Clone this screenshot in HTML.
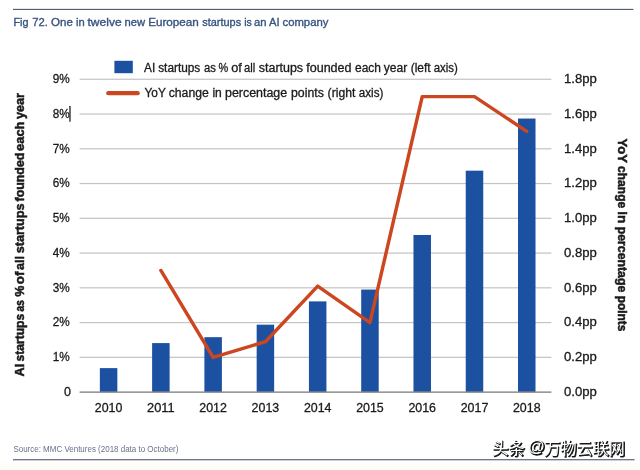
<!DOCTYPE html>
<html><head><meta charset="utf-8"><title>Fig 72</title>
<style>
html,body{margin:0;padding:0;background:#fff;}
body{width:640px;height:470px;position:relative;overflow:hidden;font-family:"Liberation Sans",sans-serif;}
</style></head><body>
<svg width="640" height="470" viewBox="0 0 640 470" style="position:absolute;left:0;top:0;will-change:transform">
<rect x="0" y="463" width="640" height="7" fill="#fefdf7"/>
<rect x="13" y="8.85" width="620.4" height="1.1" fill="#4b566b"/>
<rect x="13" y="459.15" width="621.6" height="1.15" fill="#566176"/>
<rect x="79.6" y="356.74" width="471.79999999999995" height="1.2" fill="#c3c3c3"/>
<rect x="79.6" y="321.98" width="471.79999999999995" height="1.2" fill="#c3c3c3"/>
<rect x="79.6" y="287.22" width="471.79999999999995" height="1.2" fill="#c3c3c3"/>
<rect x="79.6" y="252.46" width="471.79999999999995" height="1.2" fill="#c3c3c3"/>
<rect x="79.6" y="217.70" width="471.79999999999995" height="1.2" fill="#c3c3c3"/>
<rect x="79.6" y="182.94" width="471.79999999999995" height="1.2" fill="#c3c3c3"/>
<rect x="79.6" y="148.18" width="471.79999999999995" height="1.2" fill="#c3c3c3"/>
<rect x="79.6" y="113.42" width="471.79999999999995" height="1.2" fill="#c3c3c3"/>
<rect x="79.6" y="78.66" width="471.79999999999995" height="1.2" fill="#c3c3c3"/>
<rect x="99.85" y="368.12" width="17.5" height="23.98" fill="#1c50a1"/>
<rect x="152.12" y="343.09" width="17.5" height="49.01" fill="#1c50a1"/>
<rect x="204.39" y="337.18" width="17.5" height="54.92" fill="#1c50a1"/>
<rect x="256.66" y="324.67" width="17.5" height="67.43" fill="#1c50a1"/>
<rect x="308.93" y="301.38" width="17.5" height="90.72" fill="#1c50a1"/>
<rect x="361.20" y="289.56" width="17.5" height="102.54" fill="#1c50a1"/>
<rect x="413.47" y="234.98" width="17.5" height="157.12" fill="#1c50a1"/>
<rect x="465.74" y="170.68" width="17.5" height="221.42" fill="#1c50a1"/>
<rect x="518.01" y="118.54" width="17.5" height="273.56" fill="#1c50a1"/>
<rect x="79.6" y="391.40" width="471.79999999999995" height="1.5" fill="#8e8e8e"/>
<polyline points="160.87,270.44 213.14,357.34 265.41,341.70 317.68,286.08 369.95,322.58 422.22,96.64 474.49,96.64 526.76,131.40" fill="none" stroke="#cc4720" stroke-width="3.45" stroke-linejoin="round" stroke-linecap="round"/>
<rect x="114.4" y="60.8" width="18.4" height="12.4" fill="#1c50a1"/>
<line x1="108.3" y1="93.2" x2="137.7" y2="93.2" stroke="#cc4720" stroke-width="4.2" stroke-linecap="round"/>
<g style="font-family:'Liberation Sans',sans-serif;" fill="#1a1a1a" stroke="#1a1a1a" stroke-width="0.3">
<text x="144.1" y="72.2" font-size="12.0" textLength="11.2" lengthAdjust="spacingAndGlyphs">AI</text><text x="158.2" y="72.2" font-size="12.0" textLength="42.1" lengthAdjust="spacingAndGlyphs">startups</text><text x="203.9" y="72.2" font-size="12.0" textLength="11.9" lengthAdjust="spacingAndGlyphs">as</text><text x="218.4" y="72.2" font-size="12.0" textLength="9.7" lengthAdjust="spacingAndGlyphs">%</text><text x="231.3" y="72.2" font-size="12.0" textLength="10.6" lengthAdjust="spacingAndGlyphs">of</text><text x="244.1" y="72.2" font-size="12.0" textLength="11.2" lengthAdjust="spacingAndGlyphs">all</text><text x="258.8" y="72.2" font-size="12.0" textLength="44.3" lengthAdjust="spacingAndGlyphs">startups</text><text x="306.2" y="72.2" font-size="12.0" textLength="45.4" lengthAdjust="spacingAndGlyphs">founded</text><text x="355.0" y="72.2" font-size="12.0" textLength="25.9" lengthAdjust="spacingAndGlyphs">each</text><text x="383.7" y="72.2" font-size="12.0" textLength="23.5" lengthAdjust="spacingAndGlyphs">year</text><text x="410.7" y="72.2" font-size="12.0" textLength="20.0" lengthAdjust="spacingAndGlyphs">(left</text><text x="433.7" y="72.2" font-size="12.0" textLength="24.1" lengthAdjust="spacingAndGlyphs">axis)</text>
<text x="144.5" y="97.3" font-size="12.0" textLength="21.4" lengthAdjust="spacingAndGlyphs">YoY</text><text x="168.7" y="97.3" font-size="12.0" textLength="40.1" lengthAdjust="spacingAndGlyphs">change</text><text x="212.4" y="97.3" font-size="12.0" textLength="9.4" lengthAdjust="spacingAndGlyphs">in</text><text x="225.0" y="97.3" font-size="12.0" textLength="62.2" lengthAdjust="spacingAndGlyphs">percentage</text><text x="291.0" y="97.3" font-size="12.0" textLength="32.8" lengthAdjust="spacingAndGlyphs">points</text><text x="327.6" y="97.3" font-size="12.0" textLength="27.7" lengthAdjust="spacingAndGlyphs">(right</text><text x="358.8" y="97.3" font-size="12.0" textLength="24.6" lengthAdjust="spacingAndGlyphs">axis)</text>
<text x="69.8" y="361.24" font-size="12.5" text-anchor="end" textLength="17" lengthAdjust="spacingAndGlyphs">1%</text>
<text x="69.8" y="326.48" font-size="12.5" text-anchor="end" textLength="17" lengthAdjust="spacingAndGlyphs">2%</text>
<text x="69.8" y="291.72" font-size="12.5" text-anchor="end" textLength="17" lengthAdjust="spacingAndGlyphs">3%</text>
<text x="69.8" y="256.96" font-size="12.5" text-anchor="end" textLength="17" lengthAdjust="spacingAndGlyphs">4%</text>
<text x="69.8" y="222.20" font-size="12.5" text-anchor="end" textLength="17" lengthAdjust="spacingAndGlyphs">5%</text>
<text x="69.8" y="187.44" font-size="12.5" text-anchor="end" textLength="17" lengthAdjust="spacingAndGlyphs">6%</text>
<text x="69.8" y="152.68" font-size="12.5" text-anchor="end" textLength="17" lengthAdjust="spacingAndGlyphs">7%</text>
<text x="69.8" y="117.92" font-size="12.5" text-anchor="end" textLength="17" lengthAdjust="spacingAndGlyphs">8%</text>
<text x="69.8" y="83.16" font-size="12.5" text-anchor="end" textLength="17" lengthAdjust="spacingAndGlyphs">9%</text>
<text x="71" y="395.50" font-size="12.5" text-anchor="end">0</text>
<rect x="69.3" y="106.2" width="1.3" height="15.5" fill="#5a5a5a"/>
<text x="564" y="395.90" font-size="12.5" textLength="32.8" lengthAdjust="spacingAndGlyphs">0.0pp</text>
<text x="564" y="361.14" font-size="12.5" textLength="32.8" lengthAdjust="spacingAndGlyphs">0.2pp</text>
<text x="564" y="326.38" font-size="12.5" textLength="32.8" lengthAdjust="spacingAndGlyphs">0.4pp</text>
<text x="564" y="291.62" font-size="12.5" textLength="32.8" lengthAdjust="spacingAndGlyphs">0.6pp</text>
<text x="564" y="256.86" font-size="12.5" textLength="32.8" lengthAdjust="spacingAndGlyphs">0.8pp</text>
<text x="564" y="222.10" font-size="12.5" textLength="32.8" lengthAdjust="spacingAndGlyphs">1.0pp</text>
<text x="564" y="187.34" font-size="12.5" textLength="32.8" lengthAdjust="spacingAndGlyphs">1.2pp</text>
<text x="564" y="152.58" font-size="12.5" textLength="32.8" lengthAdjust="spacingAndGlyphs">1.4pp</text>
<text x="564" y="117.82" font-size="12.5" textLength="32.8" lengthAdjust="spacingAndGlyphs">1.6pp</text>
<text x="564" y="83.06" font-size="12.5" textLength="32.8" lengthAdjust="spacingAndGlyphs">1.8pp</text>
<text x="108.60" y="411.9" font-size="12.7" text-anchor="middle" textLength="27.6" lengthAdjust="spacingAndGlyphs">2010</text>
<text x="160.87" y="411.9" font-size="12.7" text-anchor="middle" textLength="27.6" lengthAdjust="spacingAndGlyphs">2011</text>
<text x="213.14" y="411.9" font-size="12.7" text-anchor="middle" textLength="27.6" lengthAdjust="spacingAndGlyphs">2012</text>
<text x="265.41" y="411.9" font-size="12.7" text-anchor="middle" textLength="27.6" lengthAdjust="spacingAndGlyphs">2013</text>
<text x="317.68" y="411.9" font-size="12.7" text-anchor="middle" textLength="27.6" lengthAdjust="spacingAndGlyphs">2014</text>
<text x="369.95" y="411.9" font-size="12.7" text-anchor="middle" textLength="27.6" lengthAdjust="spacingAndGlyphs">2015</text>
<text x="422.22" y="411.9" font-size="12.7" text-anchor="middle" textLength="27.6" lengthAdjust="spacingAndGlyphs">2016</text>
<text x="474.49" y="411.9" font-size="12.7" text-anchor="middle" textLength="27.6" lengthAdjust="spacingAndGlyphs">2017</text>
<text x="526.76" y="411.9" font-size="12.7" text-anchor="middle" textLength="27.6" lengthAdjust="spacingAndGlyphs">2018</text>
<text transform="translate(23.7,376.5) rotate(-90)" font-size="12.8" font-weight="bold" stroke-width="0.5" textLength="12.7" lengthAdjust="spacingAndGlyphs">AI</text><text transform="translate(23.7,361.4) rotate(-90)" font-size="12.8" font-weight="bold" stroke-width="0.5" textLength="47.6" lengthAdjust="spacingAndGlyphs">startups</text><text transform="translate(23.7,311.5) rotate(-90)" font-size="12.8" font-weight="bold" stroke-width="0.5" textLength="11.3" lengthAdjust="spacingAndGlyphs">as</text><text transform="translate(23.7,296.6) rotate(-90)" font-size="12.8" font-weight="bold" stroke-width="0.5" textLength="10.9" lengthAdjust="spacingAndGlyphs">%</text><text transform="translate(23.7,284.2) rotate(-90)" font-size="12.8" font-weight="bold" stroke-width="0.5" textLength="12.6" lengthAdjust="spacingAndGlyphs">of</text><text transform="translate(23.7,269.9) rotate(-90)" font-size="12.8" font-weight="bold" stroke-width="0.5" textLength="13.9" lengthAdjust="spacingAndGlyphs">all</text><text transform="translate(23.7,253.3) rotate(-90)" font-size="12.8" font-weight="bold" stroke-width="0.5" textLength="49.8" lengthAdjust="spacingAndGlyphs">startups</text><text transform="translate(23.7,201.5) rotate(-90)" font-size="12.8" font-weight="bold" stroke-width="0.5" textLength="48.9" lengthAdjust="spacingAndGlyphs">founded</text><text transform="translate(23.7,151.0) rotate(-90)" font-size="12.8" font-weight="bold" stroke-width="0.5" textLength="29.5" lengthAdjust="spacingAndGlyphs">each</text><text transform="translate(23.7,119.0) rotate(-90)" font-size="12.8" font-weight="bold" stroke-width="0.5" textLength="25.9" lengthAdjust="spacingAndGlyphs">year</text>
<text transform="translate(617.5,138.5) rotate(90)" font-size="13.0" font-weight="bold" stroke-width="0.5" textLength="24.3" lengthAdjust="spacingAndGlyphs">YoY</text><text transform="translate(617.5,166.0) rotate(90)" font-size="13.0" font-weight="bold" stroke-width="0.5" textLength="42.2" lengthAdjust="spacingAndGlyphs">change</text><text transform="translate(617.5,211.2) rotate(90)" font-size="13.0" font-weight="bold" stroke-width="0.5" textLength="12.3" lengthAdjust="spacingAndGlyphs">in</text><text transform="translate(617.5,226.7) rotate(90)" font-size="13.0" font-weight="bold" stroke-width="0.5" textLength="65.6" lengthAdjust="spacingAndGlyphs">percentage</text><text transform="translate(617.5,295.7) rotate(90)" font-size="13.0" font-weight="bold" stroke-width="0.5" textLength="35.7" lengthAdjust="spacingAndGlyphs">points</text>
</g>
<g fill="#37537f" stroke="#37537f" stroke-width="0.35" style="font-family:'Liberation Sans',sans-serif;"><text x="13.4" y="26" font-size="11.2" textLength="15.0" lengthAdjust="spacingAndGlyphs">Fig</text><text x="32.2" y="26" font-size="11.2" textLength="15.6" lengthAdjust="spacingAndGlyphs">72.</text><text x="51.0" y="26" font-size="11.2" textLength="21.8" lengthAdjust="spacingAndGlyphs">One</text><text x="76.0" y="26" font-size="11.2" textLength="8.7" lengthAdjust="spacingAndGlyphs">in</text><text x="87.5" y="26" font-size="11.2" textLength="34.1" lengthAdjust="spacingAndGlyphs">twelve</text><text x="124.5" y="26" font-size="11.2" textLength="20.6" lengthAdjust="spacingAndGlyphs">new</text><text x="148.2" y="26" font-size="11.2" textLength="50.7" lengthAdjust="spacingAndGlyphs">European</text><text x="202.3" y="26" font-size="11.2" textLength="38.8" lengthAdjust="spacingAndGlyphs">startups</text><text x="244.2" y="26" font-size="11.2" textLength="7.6" lengthAdjust="spacingAndGlyphs">is</text><text x="254.1" y="26" font-size="11.2" textLength="12.5" lengthAdjust="spacingAndGlyphs">an</text><text x="269.1" y="26" font-size="11.2" textLength="10.6" lengthAdjust="spacingAndGlyphs">AI</text><text x="282.5" y="26" font-size="11.2" textLength="45.9" lengthAdjust="spacingAndGlyphs">company</text></g>
<text x="13.4" y="451.9" font-size="8.3" fill="#64728c" style="font-family:'Liberation Sans',sans-serif;" textLength="165" lengthAdjust="spacingAndGlyphs">Source: MMC Ventures (2018 data to October)</text>
<defs><filter id="b" x="-5%" y="-20%" width="110%" height="140%"><feGaussianBlur stdDeviation="0.35"/></filter></defs>
<g fill="#141414" stroke="#141414" stroke-width="1" stroke-linejoin="round" filter="url(#b)" style="font-family:'Liberation Sans','Noto Sans CJK SC',sans-serif;"><text x="493.35" y="454.65" font-size="16" textLength="32.1" lengthAdjust="spacing">头条</text><text x="529.05" y="453.25" font-size="16.6" stroke-width="1.1">@</text><text x="545.35" y="454.65" font-size="16" textLength="80.4" lengthAdjust="spacing">万物云联网</text></g>
<g fill="#fff" stroke="none" style="font-family:'Liberation Sans','Noto Sans CJK SC',sans-serif;"><text x="492.40" y="453.70" font-size="16" textLength="32.1" lengthAdjust="spacing">头条</text><text x="528.10" y="452.30" font-size="16.6">@</text><text x="544.40" y="453.70" font-size="16" textLength="80.4" lengthAdjust="spacing">万物云联网</text></g>
</svg>
</body></html>
